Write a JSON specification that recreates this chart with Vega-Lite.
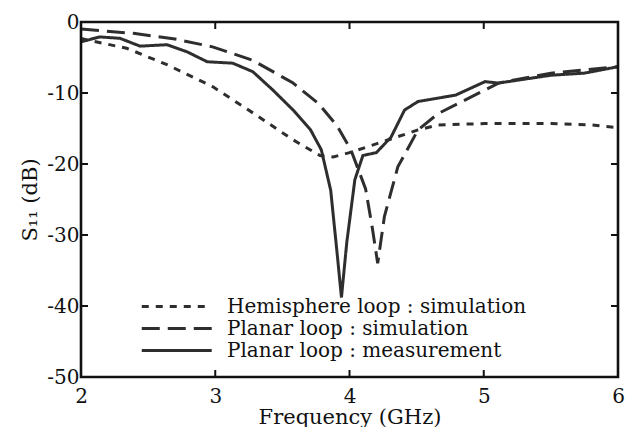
{
  "$schema": "https://vega.github.io/schema/vega-lite/v6.json",
  "width": 537,
  "height": 355,
  "autosize": {"type": "none"},
  "padding": {"left": 81, "top": 22, "right": 20, "bottom": 50},
  "background": "white",
  "config": {
    "view": {"stroke": null},
    "axis": {"grid": false, "domain": false, "ticks": false,
      "labelFont": "DejaVu Serif", "labelFontSize": 20, "labelColor": "#111",
      "titleFont": "DejaVu Serif", "titleFontSize": 21, "titleFontWeight": "normal", "titleColor": "#111"}
  },
  "datasets": {
    "curves": [
      {"f": 2.0, "s": -2.3, "series": "Hemisphere loop : simulation"},
      {"f": 2.04, "s": -2.5, "series": "Hemisphere loop : simulation"},
      {"f": 2.34, "s": -3.7, "series": "Hemisphere loop : simulation"},
      {"f": 2.64, "s": -6.0, "series": "Hemisphere loop : simulation"},
      {"f": 2.98, "s": -9.1, "series": "Hemisphere loop : simulation"},
      {"f": 3.28, "s": -12.8, "series": "Hemisphere loop : simulation"},
      {"f": 3.58, "s": -16.6, "series": "Hemisphere loop : simulation"},
      {"f": 3.78, "s": -18.8, "series": "Hemisphere loop : simulation"},
      {"f": 3.88, "s": -19.0, "series": "Hemisphere loop : simulation"},
      {"f": 4.0, "s": -18.4, "series": "Hemisphere loop : simulation"},
      {"f": 4.21, "s": -17.1, "series": "Hemisphere loop : simulation"},
      {"f": 4.51, "s": -15.2, "series": "Hemisphere loop : simulation"},
      {"f": 4.66, "s": -14.5, "series": "Hemisphere loop : simulation"},
      {"f": 5.01, "s": -14.3, "series": "Hemisphere loop : simulation"},
      {"f": 5.5, "s": -14.3, "series": "Hemisphere loop : simulation"},
      {"f": 5.8, "s": -14.5, "series": "Hemisphere loop : simulation"},
      {"f": 6.0, "s": -14.9, "series": "Hemisphere loop : simulation"},

      {"f": 2.0, "s": -1.0, "series": "Planar loop : simulation"},
      {"f": 2.39, "s": -1.6, "series": "Planar loop : simulation"},
      {"f": 2.7, "s": -2.4, "series": "Planar loop : simulation"},
      {"f": 2.98, "s": -3.5, "series": "Planar loop : simulation"},
      {"f": 3.28, "s": -5.4, "series": "Planar loop : simulation"},
      {"f": 3.58, "s": -8.6, "series": "Planar loop : simulation"},
      {"f": 3.77, "s": -11.5, "series": "Planar loop : simulation"},
      {"f": 3.91, "s": -14.7, "series": "Planar loop : simulation"},
      {"f": 4.01, "s": -18.0, "series": "Planar loop : simulation"},
      {"f": 4.12, "s": -23.5, "series": "Planar loop : simulation"},
      {"f": 4.17, "s": -29.0, "series": "Planar loop : simulation"},
      {"f": 4.21, "s": -34.0, "series": "Planar loop : simulation"},
      {"f": 4.26, "s": -27.4, "series": "Planar loop : simulation"},
      {"f": 4.36, "s": -20.4, "series": "Planar loop : simulation"},
      {"f": 4.51, "s": -15.2, "series": "Planar loop : simulation"},
      {"f": 4.66, "s": -12.9, "series": "Planar loop : simulation"},
      {"f": 4.86, "s": -11.0, "series": "Planar loop : simulation"},
      {"f": 5.11, "s": -8.6, "series": "Planar loop : simulation"},
      {"f": 5.5, "s": -7.2, "series": "Planar loop : simulation"},
      {"f": 6.0, "s": -6.3, "series": "Planar loop : simulation"},

      {"f": 2.0, "s": -2.8, "series": "Planar loop : measurement"},
      {"f": 2.14, "s": -2.1, "series": "Planar loop : measurement"},
      {"f": 2.29, "s": -2.3, "series": "Planar loop : measurement"},
      {"f": 2.44, "s": -3.4, "series": "Planar loop : measurement"},
      {"f": 2.64, "s": -3.2, "series": "Planar loop : measurement"},
      {"f": 2.79, "s": -4.2, "series": "Planar loop : measurement"},
      {"f": 2.94, "s": -5.6, "series": "Planar loop : measurement"},
      {"f": 3.13, "s": -5.8, "series": "Planar loop : measurement"},
      {"f": 3.28, "s": -7.0, "series": "Planar loop : measurement"},
      {"f": 3.43, "s": -9.6, "series": "Planar loop : measurement"},
      {"f": 3.58, "s": -12.4, "series": "Planar loop : measurement"},
      {"f": 3.71, "s": -15.2, "series": "Planar loop : measurement"},
      {"f": 3.79, "s": -18.0, "series": "Planar loop : measurement"},
      {"f": 3.86, "s": -23.7, "series": "Planar loop : measurement"},
      {"f": 3.91, "s": -33.0, "series": "Planar loop : measurement"},
      {"f": 3.94, "s": -38.8, "series": "Planar loop : measurement"},
      {"f": 3.98, "s": -31.0, "series": "Planar loop : measurement"},
      {"f": 4.04, "s": -22.2, "series": "Planar loop : measurement"},
      {"f": 4.1, "s": -18.8, "series": "Planar loop : measurement"},
      {"f": 4.2, "s": -18.4, "series": "Planar loop : measurement"},
      {"f": 4.31, "s": -16.2, "series": "Planar loop : measurement"},
      {"f": 4.41, "s": -12.4, "series": "Planar loop : measurement"},
      {"f": 4.51, "s": -11.2, "series": "Planar loop : measurement"},
      {"f": 4.79, "s": -10.3, "series": "Planar loop : measurement"},
      {"f": 5.01, "s": -8.4, "series": "Planar loop : measurement"},
      {"f": 5.11, "s": -8.6, "series": "Planar loop : measurement"},
      {"f": 5.5, "s": -7.5, "series": "Planar loop : measurement"},
      {"f": 5.75, "s": -7.2, "series": "Planar loop : measurement"},
      {"f": 6.0, "s": -6.3, "series": "Planar loop : measurement"}
    ],
    "frame": [
      {"f": 2, "s": 0, "k": 1},
      {"f": 6, "s": 0, "k": 2},
      {"f": 6, "s": -50, "k": 3},
      {"f": 2, "s": -50, "k": 4},
      {"f": 2, "s": 0, "k": 5}
    ],
    "xticks": [{"v": 3}, {"v": 4}, {"v": 5}],
    "yticks": [{"v": -10}, {"v": -20}, {"v": -30}, {"v": -40}]
  },
  "layer": [
    {
      "data": {"name": "curves"},
      "mark": {"type": "line", "color": "#2e2e2e", "strokeWidth": 3, "clip": true},
      "encoding": {
        "x": {"field": "f", "type": "quantitative", "scale": {"domain": [2, 6], "nice": false},
          "axis": {"values": [2, 3, 4, 5, 6], "title": "Frequency (GHz)", "labelFlush": false, "labelDx": 3, "labelPadding": 9, "titlePadding": 0,
            "labelExpr": "'' + datum.value"}},
        "y": {"field": "s", "type": "quantitative", "scale": {"domain": [-50, 0], "nice": false},
          "axis": {"values": [0, -10, -20, -30, -40, -50], "title": "S₁₁ (dB)", "labelPadding": 2, "labelDy": -2, "titlePadding": 6,
            "labelExpr": "'' + datum.value"}},
        "strokeDash": {"field": "series", "type": "nominal",
          "scale": {"domain": ["Hemisphere loop : simulation", "Planar loop : simulation", "Planar loop : measurement"],
            "range": [[7, 7], [18, 8], [1, 0]]},
          "legend": {"title": null, "orient": "none", "legendX": 59, "legendY": 274, "symbolType": "M-1,0H7",
            "symbolSize": 306, "symbolStrokeWidth": 3, "symbolStrokeColor": "#2e2e2e", "labelFont": "DejaVu Serif",
            "labelFontSize": 20, "labelColor": "#111", "labelOffset": 66, "labelLimit": 500, "rowPadding": 1}},
        "detail": {"field": "series"}
      }
    },
    {
      "data": {"name": "xticks"},
      "mark": {"type": "tick", "orient": "vertical", "color": "#111", "size": 7, "thickness": 2, "yOffset": -3.5, "opacity": 1},
      "encoding": {"x": {"field": "v", "type": "quantitative"}, "y": {"datum": -50}}
    },
    {
      "data": {"name": "xticks"},
      "mark": {"type": "tick", "orient": "vertical", "color": "#111", "size": 7, "thickness": 2, "yOffset": 3.5, "opacity": 1},
      "encoding": {"x": {"field": "v", "type": "quantitative"}, "y": {"datum": 0}}
    },
    {
      "data": {"name": "yticks"},
      "mark": {"type": "tick", "orient": "horizontal", "color": "#111", "size": 7, "thickness": 2, "xOffset": 3.5, "opacity": 1},
      "encoding": {"y": {"field": "v", "type": "quantitative"}, "x": {"datum": 2}}
    },
    {
      "data": {"name": "yticks"},
      "mark": {"type": "tick", "orient": "horizontal", "color": "#111", "size": 7, "thickness": 2, "xOffset": -3.5, "opacity": 1},
      "encoding": {"y": {"field": "v", "type": "quantitative"}, "x": {"datum": 6}}
    },
    {
      "data": {"name": "frame"},
      "mark": {"type": "line", "color": "#111", "strokeWidth": 2.6, "clip": false, "strokeCap": "square", "strokeJoin": "miter"},
      "encoding": {
        "x": {"field": "f", "type": "quantitative"},
        "y": {"field": "s", "type": "quantitative"},
        "order": {"field": "k", "type": "quantitative"}
      }
    }
  ]
}
